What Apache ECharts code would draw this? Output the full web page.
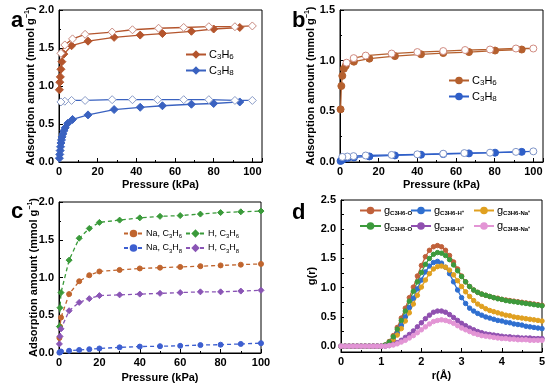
<!DOCTYPE html>
<html><head><meta charset="utf-8">
<script src="https://cdn.jsdelivr.net/npm/echarts@6/dist/echarts.min.js"></script>
<style>html,body{margin:0;padding:0;background:#fff}#c{width:550px;height:391px}</style>
</head><body><div id="c"></div>
<script>
// ---------- Panel a (diamonds) ----------
const a_C3H6_ads_P = [0.2, 0.4, 0.7, 1.0, 1.5, 2.5, 6.5, 15, 28.5, 42, 53.5, 68.5, 80, 93.5];
const a_C3H6_ads_V = [0.95, 1.05, 1.12, 1.22, 1.32, 1.42, 1.53, 1.59, 1.64, 1.67, 1.69, 1.72, 1.75, 1.77];
const a_C3H6_des_P = [100, 91, 77.5, 64.5, 51.5, 38, 27.5, 13.5, 7, 3, 1];
const a_C3H6_des_V = [1.79, 1.78, 1.78, 1.77, 1.76, 1.74, 1.71, 1.68, 1.62, 1.54, 1.43];
const a_C3H8_ads_P = [0.2, 0.4, 0.6, 0.8, 1.0, 1.3, 1.6, 2.0, 2.5, 3.2, 4.6, 7, 15, 28.5, 42, 53.5, 68.5, 80, 93.5];
const a_C3H8_ads_V = [0.05, 0.1, 0.15, 0.2, 0.25, 0.29, 0.33, 0.37, 0.41, 0.45, 0.51, 0.56, 0.62, 0.69, 0.72, 0.74, 0.76, 0.77, 0.79];
const a_C3H8_des_P = [100, 91, 77.5, 64.5, 51, 38, 27.5, 13.5, 6.5, 3, 1];
const a_C3H8_des_V = [0.81, 0.81, 0.82, 0.82, 0.82, 0.82, 0.82, 0.81, 0.81, 0.80, 0.79];
// ---------- Panel b (circles) ----------
const b_C3H6_ads_P = [0.3, 0.7, 1.2, 2.0, 3.0, 7.2, 15.2, 28.4, 41.9, 53.4, 66.7, 80.2, 94];
const b_C3H6_ads_V = [0.52, 0.75, 0.85, 0.92, 0.95, 0.99, 1.02, 1.045, 1.063, 1.075, 1.085, 1.10, 1.11];
const b_C3H6_des_P = [100, 91, 77.6, 64.7, 53.4, 40, 26.7, 13.3, 7.1, 3.4];
const b_C3H6_des_V = [1.12, 1.12, 1.11, 1.105, 1.095, 1.085, 1.07, 1.05, 1.025, 0.98];
const b_C3H8_ads_P = [0.3, 1, 2, 4, 7.2, 15.2, 28.4, 41.9, 53.4, 66.7, 80.2, 94];
const b_C3H8_ads_V = [0.01, 0.02, 0.03, 0.04, 0.045, 0.055, 0.065, 0.072, 0.078, 0.085, 0.092, 0.10];
const b_C3H8_des_P = [100, 91, 77.6, 64.3, 53.4, 40, 26.7, 13.3, 7, 3.8, 1.2];
const b_C3H8_des_V = [0.105, 0.10, 0.092, 0.088, 0.082, 0.076, 0.07, 0.064, 0.058, 0.054, 0.05];
// ---------- Panel c ----------
const c_P = [0.2, 0.5, 1, 5, 10, 15, 20, 30, 40, 50, 60, 70, 80, 90, 100];
const c_Na_C3H6 = [0.2, 0.35, 0.47, 0.78, 0.95, 1.03, 1.08, 1.10, 1.12, 1.13, 1.14, 1.15, 1.16, 1.17, 1.18];
const c_H_C3H6  = [0.35, 0.6, 0.8, 1.23, 1.52, 1.65, 1.73, 1.76, 1.79, 1.81, 1.82, 1.84, 1.86, 1.87, 1.88];
const c_Na_C3H8 = [0.005, 0.01, 0.02, 0.03, 0.04, 0.05, 0.06, 0.075, 0.085, 0.09, 0.095, 0.105, 0.11, 0.12, 0.13];
const c_H_C3H8  = [0.12, 0.22, 0.32, 0.56, 0.67, 0.72, 0.76, 0.77, 0.78, 0.79, 0.80, 0.81, 0.81, 0.82, 0.83];
// ---------- Panel d ----------
const d_r = [0.0,0.1,0.2,0.3,0.4,0.5,0.6,0.7,0.8,0.9,1.0,1.1,1.2,1.3,1.4,1.5,1.6,1.7,1.8,1.9,2.0,2.1,2.2,2.3,2.4,2.5,2.6,2.7,2.8,2.9,3.0,3.1,3.2,3.3,3.4,3.5,3.6,3.7,3.8,3.9,4.0,4.1,4.2,4.3,4.4,4.5,4.6,4.7,4.8,4.9,5.0];
const g_C3H6_O  = [0,0,0,0,0,0,0,0,0,0,0,0.02,0.08,0.18,0.32,0.48,0.65,0.83,1.01,1.2,1.38,1.53,1.64,1.70,1.72,1.70,1.64,1.55,1.44,1.32,1.20,1.10,1.02,0.96,0.92,0.89,0.87,0.85,0.83,0.82,0.80,0.79,0.78,0.77,0.76,0.75,0.74,0.73,0.72,0.71,0.70];
const g_C3H6_H  = [0,0,0,0,0,0,0,0,0,0,0,0.01,0.05,0.12,0.22,0.35,0.50,0.66,0.82,0.98,1.13,1.27,1.37,1.43,1.45,1.42,1.35,1.24,1.10,0.96,0.83,0.73,0.65,0.60,0.56,0.53,0.50,0.48,0.46,0.44,0.43,0.41,0.40,0.38,0.37,0.36,0.34,0.33,0.32,0.31,0.30];
const g_C3H6_Na = [0,0,0,0,0,0,0,0,0,0,0,0.01,0.04,0.10,0.19,0.30,0.43,0.57,0.72,0.87,1.01,1.13,1.24,1.32,1.36,1.37,1.35,1.30,1.22,1.12,1.02,0.93,0.85,0.78,0.72,0.68,0.64,0.61,0.59,0.57,0.55,0.53,0.52,0.50,0.49,0.48,0.47,0.46,0.45,0.44,0.43];
const g_C3H8_O  = [0,0,0,0,0,0,0,0,0,0,0,0.02,0.07,0.16,0.29,0.44,0.60,0.77,0.94,1.10,1.26,1.40,1.50,1.57,1.60,1.59,1.55,1.48,1.39,1.29,1.19,1.10,1.02,0.96,0.92,0.89,0.87,0.85,0.83,0.81,0.80,0.78,0.77,0.76,0.75,0.74,0.73,0.72,0.71,0.70,0.69];
const g_C3H8_H  = [0,0,0,0,0,0,0,0,0,0,0,0,0.01,0.03,0.06,0.10,0.15,0.20,0.26,0.33,0.40,0.47,0.53,0.58,0.60,0.60,0.58,0.54,0.49,0.44,0.39,0.35,0.31,0.28,0.25,0.23,0.21,0.20,0.19,0.18,0.17,0.16,0.16,0.15,0.15,0.14,0.14,0.14,0.13,0.13,0.13];
const g_C3H8_Na = [0,0,0,0,0,0,0,0,0,0,0,0,0.01,0.02,0.04,0.07,0.10,0.14,0.18,0.23,0.28,0.33,0.38,0.42,0.44,0.45,0.44,0.42,0.39,0.35,0.31,0.28,0.25,0.22,0.20,0.18,0.17,0.16,0.15,0.14,0.13,0.13,0.12,0.12,0.11,0.11,0.11,0.10,0.10,0.10,0.10];
// tick labels / tick positions of panel d's g(r) axis
const d_yLabels = [0, 0.5, 1.0, 1.5, 2.0, 2.5];
const d_yTicks = [0, 0.25, 0.5, 0.75, 1.0, 1.25, 1.5, 1.75, 2.0, 2.25, 2.5];

const F = "'Liberation Sans', Arial, Helvetica, sans-serif";
const zip = (X, Y) => X.map((x, i) => [x, Y[i]]);
const lbl = (extra) => Object.assign({color: '#000', fontFamily: F, fontWeight: 'bold', fontSize: 11, margin: 4}, extra || {});

function axis(gridIndex, min, max, interval, extra) {
  return Object.assign({
    type: 'value', gridIndex, min, max, interval,
    axisLine: {show: true, onZero: false, lineStyle: {color: '#000', width: 1}},
    axisTick: {show: true, inside: true, length: 4, lineStyle: {color: '#000'}},
    minorTick: {show: true, splitNumber: 2, length: 2, lineStyle: {color: '#000'}},
    splitLine: {show: false},
    axisLabel: lbl(),
    nameLocation: 'middle',
    nameTextStyle: {color: '#000', fontFamily: F, fontWeight: 'bold', fontSize: 11,
      rich: {t: {fontFamily: F, fontWeight: 'bold', fontSize: 11, color: '#000', lineHeight: 13},
             sup: {fontFamily: F, fontWeight: 'bold', fontSize: 7, color: '#000', lineHeight: 13, verticalAlign: 'top'}}}
  }, extra || {});
}
const yFmt = v => v.toFixed(1);
const adsName = '{t|Adsorption amount (mmol g}{sup|−1}{t|)}';

function ser(name, gi, data, color, symbol, size, filled, opts) {
  return Object.assign({
    name, type: 'line', xAxisIndex: gi, yAxisIndex: gi, data,
    symbol, symbolSize: size, showSymbol: true, animation: false,
    lineStyle: {color, width: 1.3},
    itemStyle: {color: filled ? color : '#fff', borderColor: color, borderWidth: 1}
  }, opts || {});
}

const labels = {
  'aC3H6': '{n|C}{s|3}{n|H}{s|6}', 'aC3H8': '{n|C}{s|3}{n|H}{s|8}',
  'bC3H6': '{n|C}{s|3}{n|H}{s|6}', 'bC3H8': '{n|C}{s|3}{n|H}{s|8}',
  'Na6': '{n|Na, C}{s|3}{n|H}{s|6}', 'H6': '{n|H, C}{s|3}{n|H}{s|6}',
  'Na8': '{n|Na, C}{s|3}{n|H}{s|8}', 'H8': '{n|H, C}{s|3}{n|H}{s|8}',
  'dC3H6O': '{n|g}{s|C3H6-O}', 'dC3H6H': '{n|g}{s|C3H6-H⁺}', 'dC3H6Na': '{n|g}{s|C3H6-Na⁺}',
  'dC3H8O': '{n|g}{s|C3H8-O}', 'dC3H8H': '{n|g}{s|C3H8-H⁺}', 'dC3H8Na': '{n|g}{s|C3H8-Na⁺}'
};
function lg(left, top, data, fs, sfs, iw, gap, lh, sBold) {
  return {
    left, top, orient: 'vertical', data, itemWidth: iw, itemHeight: 7, itemGap: gap,
    selectedMode: false, padding: 0,
    formatter: n => labels[n],
    textStyle: {color: '#000', fontFamily: F, padding: [0, 0, 0, -2],
      rich: {
        n: {fontFamily: F, fontSize: fs, color: '#000', lineHeight: lh},
        s: {fontFamily: F, fontSize: sfs, fontWeight: sBold ? 'bold' : 'normal', color: '#000', lineHeight: lh, verticalAlign: 'bottom'}
      }}
  };
}

const brown = '#b4552d', blueA = '#3a62c0';
const bBrown = '#b5602e', bBlue = '#2f5fc8';
const cBrown = '#c0652e', cGreen = '#3a9a3a', cBlue = '#3d5fd0', cPurple = '#8a55b5';
const dBrown = '#c0603a', dBlue = '#2f6fd0', dOrange = '#e0a020', dGreen = '#3c9a3c', dPurple = '#9050b0', dPink = '#e395d5';

const chart = echarts.init(document.getElementById('c'), null, {renderer: 'canvas'});
const tStyle = {fontFamily: F, fontWeight: 'bold', fontSize: 22, color: '#000'};
chart.setOption({
  backgroundColor: '#fff',
  animation: false,
  title: [
    {text: 'a', left: 6, top: 5, textStyle: tStyle},
    {text: 'b', left: 287, top: 5, textStyle: tStyle},
    {text: 'c', left: 6, top: 196, textStyle: tStyle},
    {text: 'd', left: 287, top: 197, textStyle: tStyle}
  ],
  grid: [
    {left: 59, top: 10, width: 203, height: 152, show: true, borderColor: '#000', borderWidth: 1},
    {left: 340, top: 10, width: 203, height: 152, show: true, borderColor: '#000', borderWidth: 1},
    {left: 59, top: 202, width: 202, height: 151, show: true, borderColor: '#000', borderWidth: 1},
    {left: 341, top: 200, width: 201, height: 152, show: true, borderColor: '#000', borderWidth: 1}
  ],
  xAxis: [
    axis(0, 0, 105, 20, {name: 'Pressure (kPa)', nameGap: 17, axisLabel: lbl({showMaxLabel: false})}),
    axis(1, 0, 105, 20, {name: 'Pressure (kPa)', nameGap: 17, axisLabel: lbl({showMaxLabel: false})}),
    axis(2, 0, 100, 20, {name: 'Pressure (kPa)', nameGap: 19}),
    axis(3, 0, 5, 1, {name: 'r(Å)', nameGap: 18})
  ],
  yAxis: [
    axis(0, 0, 2, 0.5, {name: adsName, nameGap: 22, nameMoveOverlap: false, axisLabel: lbl({margin: 5, formatter: yFmt})}),
    axis(1, 0, 1.5, 0.5, {name: adsName, nameGap: 23, nameMoveOverlap: false, axisLabel: lbl({margin: 5, formatter: yFmt})}),
    axis(2, 0, 2, 0.5, {name: adsName, nameGap: 19, nameMoveOverlap: false, axisLabel: lbl({margin: 5, formatter: yFmt})}),
    axis(3, -0.1, 2.5, null, {name: 'g(r)', nameGap: 24, nameMoveOverlap: false,
      axisLabel: lbl({margin: 5, formatter: yFmt, customValues: d_yLabels}),
      axisTick: {show: true, inside: true, length: 3, lineStyle: {color: '#000'}, customValues: d_yTicks},
      minorTick: {show: false}})
  ],
  legend: [
    lg(185, 49, ['aC3H6', 'aC3H8'], 11, 8, 20, 4, 13),
    lg(448, 75, ['bC3H6', 'bC3H8'], 11, 8, 20, 4, 13),
    lg(123, 229, ['Na6', 'Na8'], 9, 6, 19, 4, 12),
    lg(185, 229, ['H6', 'H8'], 9, 6, 19, 4, 12),
    lg(359, 205, ['dC3H6O', 'dC3H8O'], 11, 6, 21, 4, 12, true),
    lg(410, 205, ['dC3H6H', 'dC3H8H'], 11, 6, 20, 4, 12, true),
    lg(473, 205, ['dC3H6Na', 'dC3H8Na'], 11, 6, 20, 4, 12, true)
  ],
  series: [
    ser('aC3H6', 0, zip(a_C3H6_ads_P, a_C3H6_ads_V), brown, 'diamond', 8, true),
    ser('aC3H6des', 0, zip(a_C3H6_des_P, a_C3H6_des_V), brown, 'diamond', 8, false, {itemStyle: {color: '#fff', borderColor: '#c88a80', borderWidth: 1}}),
    ser('aC3H8', 0, zip(a_C3H8_ads_P, a_C3H8_ads_V), blueA, 'diamond', 8, true),
    ser('aC3H8des', 0, zip(a_C3H8_des_P, a_C3H8_des_V), blueA, 'diamond', 8, false, {itemStyle: {color: '#fff', borderColor: '#8a9cc8', borderWidth: 1}}),

    ser('bC3H6', 1, zip(b_C3H6_ads_P, b_C3H6_ads_V), bBrown, 'circle', 7, true),
    ser('bC3H6des', 1, zip(b_C3H6_des_P, b_C3H6_des_V), bBrown, 'circle', 7, false, {itemStyle: {color: '#fff', borderColor: '#d08a80', borderWidth: 1}}),
    ser('bC3H8', 1, zip(b_C3H8_ads_P, b_C3H8_ads_V), bBlue, 'circle', 7, true),
    ser('bC3H8des', 1, zip(b_C3H8_des_P, b_C3H8_des_V), bBlue, 'circle', 7, false, {itemStyle: {color: '#fff', borderColor: '#7f95c8', borderWidth: 1}}),

    ser('Na6', 2, zip(c_P, c_Na_C3H6), cBrown, 'circle', 5, true, {lineStyle: {color: cBrown, width: 1.3, type: [4, 3]}}),
    ser('H6', 2, zip(c_P, c_H_C3H6), cGreen, 'diamond', 6, true, {lineStyle: {color: cGreen, width: 1.3, type: [4, 3]}}),
    ser('Na8', 2, zip(c_P, c_Na_C3H8), cBlue, 'circle', 5, true, {lineStyle: {color: cBlue, width: 1.3, type: [4, 3]}}),
    ser('H8', 2, zip(c_P, c_H_C3H8), cPurple, 'diamond', 6, true, {lineStyle: {color: cPurple, width: 1.3, type: [4, 3]}}),

    ser('dC3H6O', 3, zip(d_r, g_C3H6_O), dBrown, 'circle', 4.5, true),
    ser('dC3H6H', 3, zip(d_r, g_C3H6_H), dBlue, 'circle', 4.5, true),
    ser('dC3H6Na', 3, zip(d_r, g_C3H6_Na), dOrange, 'circle', 4.5, true),
    ser('dC3H8O', 3, zip(d_r, g_C3H8_O), dGreen, 'circle', 4.5, true),
    ser('dC3H8H', 3, zip(d_r, g_C3H8_H), dPurple, 'circle', 4.5, true),
    ser('dC3H8Na', 3, zip(d_r, g_C3H8_Na), dPink, 'circle', 4.5, true)
  ]
});
</script></body></html>
